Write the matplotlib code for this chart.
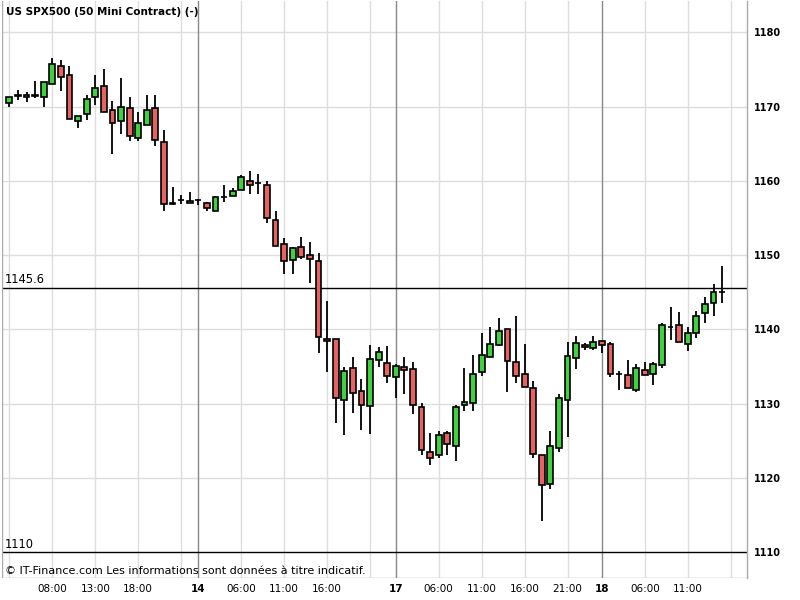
import matplotlib
matplotlib.use("Agg")
import matplotlib.pyplot as plt
from matplotlib.patches import Rectangle

# ---- data (hourly candles, index positions) ----
opens = [1170.45, 1171.45, 1171.3, 1171.45, 1171.25, 1173.05, 1175.45, 1174.2, 1168.0, 1168.95,
         1171.25, 1172.75, 1169.5, 1168.0, 1169.75, 1165.75, 1167.5, 1169.75, 1165.2, 1157.0,
         1157.45, 1157.0, 1157.35, 1156.95, 1155.9, 1157.8, 1157.95, 1158.75, 1159.95, 1159.75,
         1159.4, 1154.7, 1151.5, 1149.35, 1151.1, 1150.0, 1149.2, 1138.75, 1138.7, 1130.5,
         1134.85, 1131.75, 1129.7, 1135.9, 1135.5, 1133.6, 1134.95, 1134.7, 1129.6, 1123.55,
         1123.15, 1126.1, 1124.35, 1129.85, 1130.1, 1134.3, 1136.3, 1137.9, 1140.05, 1135.65,
         1134.0, 1132.15, 1123.15, 1119.25, 1124.05, 1130.5, 1136.15, 1137.9, 1137.5, 1138.45,
         1138.05, 1134.0, 1133.9, 1131.9, 1134.55, 1134.0, 1135.15, 1140.3, 1140.6, 1138.05,
         1139.55, 1142.2, 1143.55, 1145.0]
highs = [1171.3, 1172.2, 1171.9, 1173.45, 1173.3, 1176.55, 1176.25, 1175.45, 1168.75, 1171.55,
         1174.25, 1175.05, 1170.75, 1173.85, 1171.3, 1169.25, 1171.55, 1171.55, 1166.85, 1159.1,
         1158.1, 1158.55, 1157.5, 1157.2, 1158.0, 1159.45, 1159.0, 1160.8, 1161.35, 1160.9,
         1159.95, 1155.95, 1152.3, 1151.1, 1152.4, 1151.75, 1150.3, 1143.85, 1138.7, 1135.0,
         1136.3, 1133.35, 1137.9, 1137.65, 1137.8, 1135.3, 1136.3, 1135.65, 1130.1, 1126.1,
         1126.35, 1126.35, 1129.85, 1134.85, 1136.6, 1139.55, 1140.35, 1141.55, 1140.05, 1141.85,
         1138.05, 1133.1, 1123.15, 1126.35, 1131.35, 1138.3, 1139.15, 1138.2, 1139.15, 1138.45,
         1138.3, 1134.4, 1135.9, 1135.35, 1135.65, 1135.65, 1140.85, 1143.0, 1142.35, 1140.35,
         1142.5, 1144.35, 1146.1, 1148.6]
lows = [1169.9, 1170.9, 1170.65, 1171.2, 1169.9, 1173.0, 1172.15, 1168.3, 1167.15, 1168.2,
        1170.25, 1169.25, 1163.65, 1166.35, 1165.4, 1165.4, 1167.5, 1164.75, 1155.9, 1156.7,
        1156.9, 1156.95, 1156.8, 1155.9, 1155.9, 1157.2, 1157.95, 1158.75, 1158.2, 1158.2,
        1154.3, 1151.2, 1147.45, 1147.45, 1149.45, 1146.3, 1136.85, 1134.25, 1127.45, 1125.75,
        1128.8, 1126.45, 1125.9, 1134.95, 1132.8, 1130.75, 1131.35, 1128.65, 1123.15, 1121.8,
        1122.75, 1123.15, 1122.35, 1129.05, 1129.0, 1133.7, 1136.3, 1137.7, 1131.6, 1132.8,
        1132.25, 1122.75, 1114.25, 1118.55, 1123.55, 1125.5, 1134.7, 1137.25, 1137.25, 1136.85,
        1133.6, 1131.9, 1132.15, 1131.6, 1133.9, 1132.55, 1134.85, 1138.6, 1138.3, 1137.1,
        1138.85, 1140.9, 1141.8, 1143.55]
closes = [1171.25, 1171.5, 1171.55, 1171.5, 1173.25, 1175.7, 1173.95, 1168.3, 1168.75, 1171.0,
          1172.45, 1169.25, 1167.75, 1169.9, 1166.0, 1167.75, 1169.5, 1165.45, 1156.85, 1156.9,
          1157.45, 1157.3, 1157.35, 1156.35, 1157.8, 1157.8, 1158.6, 1160.5, 1159.4, 1159.75,
          1155.0, 1151.2, 1149.2, 1150.95, 1149.75, 1149.45, 1139.0, 1138.5, 1130.8, 1134.4,
          1131.4, 1129.85, 1136.05, 1137.0, 1133.75, 1135.1, 1134.55, 1129.85, 1123.8, 1122.75,
          1125.8, 1124.6, 1129.6, 1130.25, 1134.0, 1136.55, 1138.05, 1139.8, 1135.75, 1133.75,
          1132.25, 1123.25, 1119.1, 1124.35, 1130.8, 1136.45, 1138.2, 1137.65, 1138.3, 1137.9,
          1134.0, 1134.0, 1132.15, 1134.85, 1133.9, 1135.35, 1140.55, 1140.3, 1138.3, 1139.55,
          1141.8, 1143.45, 1145.05, 1145.0]

last_price = 1145.6
floor_price = 1110
y_ticks = [1110, 1120, 1130, 1140, 1150, 1160, 1170, 1180]

grid_positions = [0, 5, 10, 15, 20, 27, 32, 37, 42, 50, 55, 60, 65, 74, 79, 84]
day_positions = [22, 45, 69]
day_labels = ["14", "17", "18"]
hour_positions = [5, 10, 15, 27, 32, 37, 50, 55, 60, 65, 74, 79]
hour_labels = ["08:00", "13:00", "18:00", "06:00", "11:00", "16:00",
               "06:00", "11:00", "16:00", "21:00", "06:00", "11:00"]

title = "US SPX500 (50 Mini Contract) (-)"
footer = "\u00a9 IT-Finance.com Les informations sont donn\u00e9es \u00e0 titre indicatif."

GREEN = "#48cc48"
RED = "#e06666"

fig = plt.figure(figsize=(8, 6), dpi=100)
ax = fig.add_axes([2 / 800, 22 / 600, 745 / 800, 577 / 600])
ax.set_xlim(-0.86, 85.9)
ax.set_ylim(1106.54, 1184.2)

# grid
for v in y_ticks:
    if v != floor_price:
        ax.axhline(v, color="#dddddd", lw=1, zorder=0)
for p in grid_positions:
    ax.axvline(p, color="#dddddd", lw=1, zorder=0)
for p in day_positions:
    ax.axvline(p, color="#888888", lw=1, zorder=0.5)

ax.axhline(last_price, color="black", lw=1, zorder=1)
ax.axhline(floor_price, color="black", lw=1, zorder=1)

# candles
w = 0.68
for i, (o, h, l, c) in enumerate(zip(opens, highs, lows, closes)):
    ax.plot([i, i], [l, h], color="black", lw=1.3, zorder=2, solid_capstyle="butt")
    lo, hi = min(o, c), max(o, c)
    color = GREEN if c >= o else RED
    ax.add_patch(Rectangle((i - w / 2, lo), w, hi - lo, facecolor=color,
                           edgecolor="black", lw=1.2, zorder=3))

# spines
for s in ["top", "bottom", "left"]:
    ax.spines[s].set_visible(False)
ax.spines["right"].set_color("#aaaaaa")
ax.spines["right"].set_linewidth(1)
ax.axvline(-0.86 + 0.03, color="#aaaaaa", lw=1, zorder=1)
ax.axhline(1106.54 + 0.05, color="#aaaaaa", lw=1, zorder=1)

ax.yaxis.tick_right()
ax.set_yticks(y_ticks)
ax.set_yticklabels([str(v) for v in y_ticks], fontsize=7, fontweight="bold",
                   family="DejaVu Sans")
ax.tick_params(axis="y", length=0, pad=5)

xt = hour_positions + day_positions
xl = hour_labels + day_labels
ax.set_xticks(xt)
ax.set_xticklabels(xl, fontsize=7.5, family="DejaVu Sans")
for lab, p in zip(ax.get_xticklabels(), xt):
    if p in day_positions:
        lab.set_fontweight("bold")
ax.tick_params(axis="x", length=0, pad=4)

# texts
ax.text(-0.45, 1184.2 - 0.8, title, fontsize=7.5, fontweight="bold", va="top", ha="left")
ax.text(-0.55, last_price + 0.2, f"{last_price}", fontsize=8.3, va="bottom", ha="left")
ax.text(-0.55, floor_price + 0.2, f"{floor_price}", fontsize=8.3, va="bottom", ha="left")
fig.text(5 / 800, 1 - 571 / 600, footer, fontsize=8, va="center", ha="left")

fig.savefig("out.png", dpi=100)
